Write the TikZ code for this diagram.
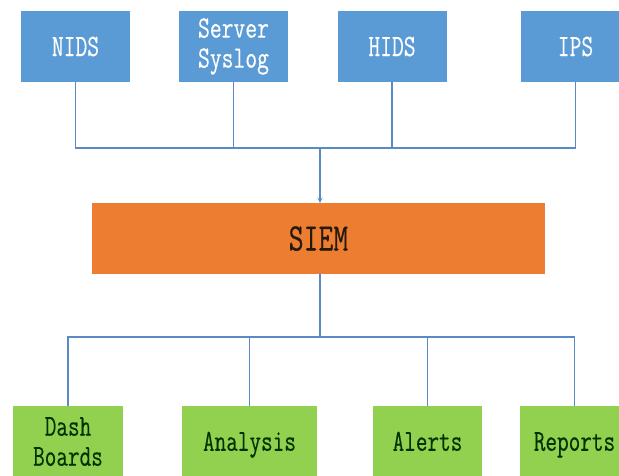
\documentclass[tikz,border=0pt]{standalone}
\usepackage{fontspec}
\setmainfont{Latin Modern Mono}[FakeStretch=0.74, FakeBold=0.3]
\usepackage{xcolor}
\usetikzlibrary{positioning, arrows}

\definecolor{srcblue}{HTML}{5B9BD5}
\definecolor{siemorange}{HTML}{ED7D31}
\definecolor{outgreen}{HTML}{92D050}
\definecolor{linkblue}{HTML}{5A8AC6}

\begin{document}
\begin{tikzpicture}[x=1pt, y=1pt, on grid,
    src/.style={rectangle, fill=srcblue, text=white, inner sep=0pt,
                minimum width=109pt, minimum height=71pt,
                font=\fontsize{31}{30}\selectfont},
    hub/.style={rectangle, fill=siemorange, text=black!80!brown, inner sep=0pt,
                minimum width=453pt, minimum height=71pt,
                font=\fontsize{39}{40}\selectfont},
    sink/.style={rectangle, fill=outgreen, text=black!80!green, inner sep=0pt,
                minimum width=109pt, minimum height=71pt,
                font=\fontsize{30.5}{30}\selectfont},
    oneline/.style={text height=#1, text depth=0pt}, oneline/.default=19pt,
    twoline/.style={align=center},
    link/.style={draw=linkblue, line width=1.2pt}]
    \clip (0,0) rectangle (619,-475);

    \node[src, oneline] (nids) at (75.5,-46.5) {NIDS};
    \node[src, twoline, right=158pt of nids] (server) {Server\\Syslog};
    \node[src, oneline, right=158.5pt of server] (hids) {HIDS};
    \node[src, oneline, right=183.5pt of hids] (ips) {IPS};

    \node[hub, oneline=24pt] (siem) at (318.5,-238.5) {SIEM};

    \node[sink, twoline, minimum width=110pt] (dash) at (68,-441.5) {Dash\\Boards};
    \node[sink, oneline=18.5pt, minimum width=135pt, right=181.5pt of dash] (analysis) {Analysis};
    \node[sink, oneline=18.5pt, right=178pt of analysis] (alerts) {Alerts};
    \node[sink, oneline=18.5pt, right=147pt of alerts] (reports) {Reports};

    \coordinate (topbus) at (320,-148);
    \coordinate (botbus) at (320,-337);

    \draw[link] (nids.south) |- (topbus) -| (ips.south);
    \draw[link] (server.south) -- (server.south |- topbus);
    \draw[link] (hids.south) -- (hids.south |- topbus);
    \draw[link, -stealth] (topbus) -- (topbus |- siem.north);

    \draw[link] (botbus |- siem.south) -- (botbus);
    \draw[link] (dash.north) |- (botbus) -| (reports.north);
    \draw[link] (analysis.north) -- (analysis.north |- botbus);
    \draw[link] (alerts.north) -- (alerts.north |- botbus);
  \end{tikzpicture}
\end{document}
